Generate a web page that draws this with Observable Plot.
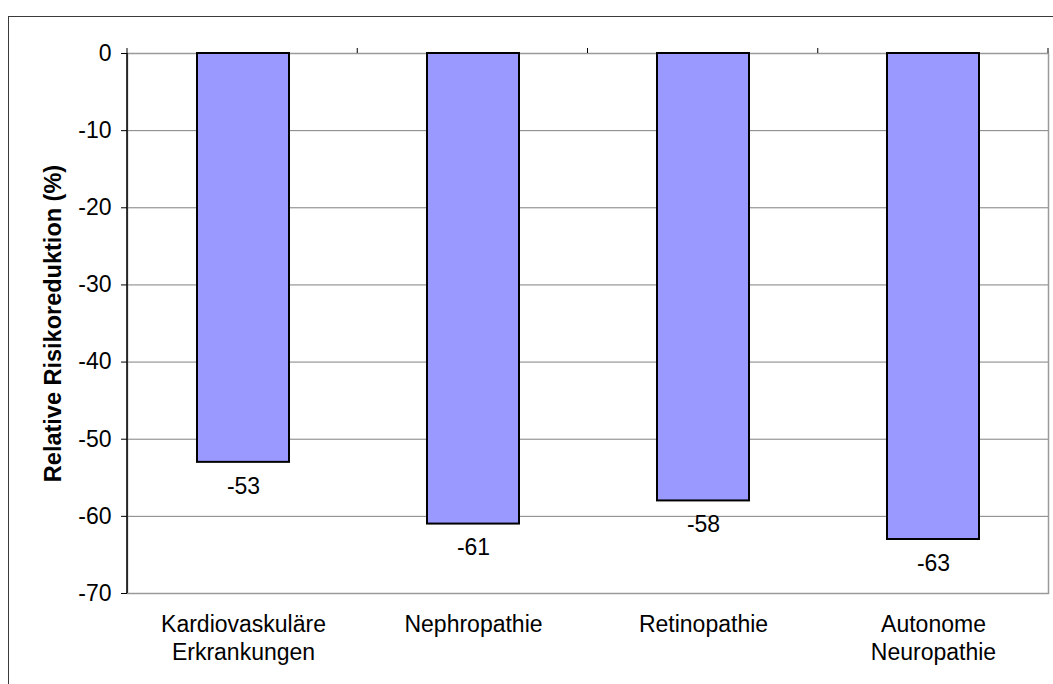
<!DOCTYPE html>
<html>
<head>
<meta charset="utf-8">
<script src="https://cdn.jsdelivr.net/npm/d3@7"></script>
<script src="https://cdn.jsdelivr.net/npm/@observablehq/plot@0.6"></script>
<style>
  html, body { margin: 0; padding: 0; background: #fff; }
  #wrap { position: relative; width: 1053px; height: 684px; overflow: hidden; }
  #border { position: absolute; left: 8px; top: 16px; width: 1100px; height: 720px;
            border: 1.5px solid #3a3a3a; box-sizing: border-box; pointer-events: none; }
  #chart { position: absolute; left: 0; top: 0; }
</style>
</head>
<body>
<div id="wrap">
  <div id="border"></div>
  <div id="chart"></div>
</div>
<script>
// Relative risk reduction per complication group
const categories = ["Kardiovaskuläre\nErkrankungen", "Nephropathie", "Retinopathie", "Autonome\nNeuropathie"];
const values = [-53, -61, -58, -63];
const yTicks = [0, -10, -20, -30, -40, -50, -60, -70];
const yTitle = "Relative Risikoreduktion (%)";

const data = categories.map((c, i) => ({category: c, value: values[i]}));

// Category separators along the zero line and the dark value axis on the left
function separators(index, scales, values, dims) {
  const {width, height, marginLeft, marginRight, marginTop, marginBottom} = dims;
  const n = categories.length;
  const g = d3.create("svg:g");
  const step = (width - marginLeft - marginRight) / n;
  for (let i = 0; i <= n; i++) {
    const x = marginLeft + i * step;
    g.append("line").attr("x1", x).attr("x2", x)
      .attr("y1", marginTop - 5).attr("y2", marginTop)
      .attr("stroke", "black").attr("stroke-width", 1);
  }
  g.append("line").attr("x1", marginLeft).attr("x2", marginLeft)
    .attr("y1", marginTop).attr("y2", height - marginBottom)
    .attr("stroke", "black").attr("stroke-width", 1.5);
  return g.node();
}

const chart = Plot.plot({
  width: 1053,
  height: 684,
  marginLeft: 127,
  marginRight: 5,
  marginTop: 53,
  marginBottom: 91,
  style: {fontFamily: "'Liberation Sans', Arial, sans-serif", fontSize: "23px", color: "black", background: "transparent"},
  x: {domain: categories, paddingInner: 0.6, paddingOuter: 0.3, axis: null},
  y: {domain: [-70, 0], axis: null},
  marks: [
    Plot.gridY(yTicks, {stroke: "#808080", strokeOpacity: 1, strokeWidth: 1}),
    Plot.frame({stroke: "#9a9a9a", strokeWidth: 1.5}),
    Plot.barY(data, {x: "category", y: "value", fill: "#9999FF", stroke: "black", strokeWidth: 2}),
    Plot.text(data, {x: "category", y: "value", text: d => String(d.value), lineAnchor: "top", dy: 15, fontSize: 23, fill: "black"}),
    Plot.axisY({ticks: yTicks, tickFormat: d => String(d), tickSize: 6, tickPadding: 10, label: null, fontSize: 23}),
    Plot.axisX({tickSize: 0, tickPadding: 19, label: null, lineHeight: 1.22, fontSize: 23}),
    Plot.text([yTitle], {frameAnchor: "left", rotate: -90, dx: -67, lineAnchor: "bottom", textAnchor: "middle",
                         fontWeight: "bold", fontSize: 23.5, fill: "black"}),
    separators
  ]
});

document.getElementById("chart").appendChild(chart);
</script>
</body>
</html>
